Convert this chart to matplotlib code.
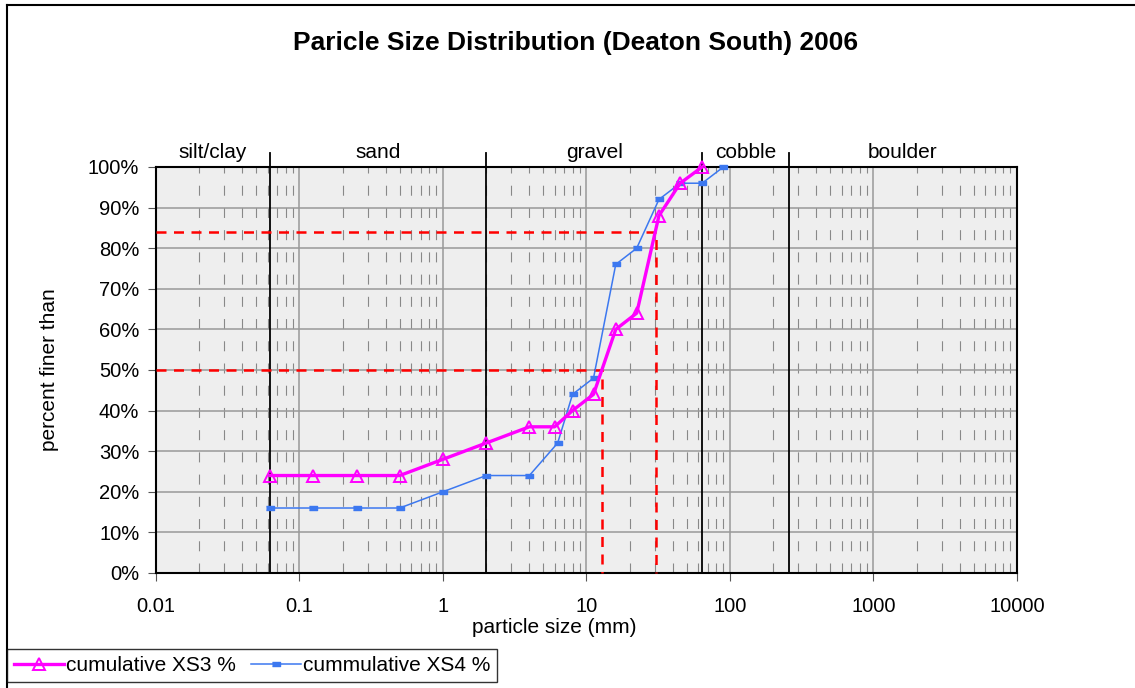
import matplotlib
matplotlib.use("Agg")
import matplotlib.pyplot as plt
from matplotlib.ticker import PercentFormatter, LogLocator, NullFormatter
from matplotlib.lines import Line2D

plt.rcParams['font.family'] = ['Liberation Sans', 'DejaVu Sans']

# sieve data (mm, % finer)
xs3_size = [0.0625, 0.125, 0.25, 0.5, 1, 2, 4, 6, 8, 11.2, 16, 22.4, 32, 45, 64]
xs3_pct = [24, 24, 24, 24, 28, 32, 36, 36, 40, 44, 60, 64, 88, 96, 100]

xs4_size = [0.0625, 0.125, 0.25, 0.5, 1, 2, 4, 6.3, 8, 11.2, 16, 22.4, 32, 45, 64, 90]
xs4_pct = [16, 16, 16, 16, 20, 24, 24, 32, 44, 48, 76, 80, 92, 96, 96, 100]

# size class boundaries and names
class_bounds = [0.0625, 2, 64, 256]
class_names = ["silt/clay", "sand", "gravel", "cobble", "boulder"]
class_edges = [0.01, 0.0625, 2, 64, 256, 10000]

# D50 and D84 markers
d_pct = [50, 84]
d_size = [12.8, 30.3]

fig = plt.figure(figsize=(11.35, 6.88), dpi=100)
ax = fig.add_axes([0.1374, 0.1672, 0.896 - 0.1374, 0.7573 - 0.1672])
ax.set_facecolor('#eeeeee')

ax.set_xscale('log')
ax.set_xlim(0.01, 10000)
ax.set_ylim(0, 100)

# grid
ax.xaxis.set_minor_locator(LogLocator(base=10, subs=range(2, 10), numticks=20))
ax.xaxis.set_minor_formatter(NullFormatter())
ax.set_xticks([0.01, 0.1, 1, 10, 100, 1000, 10000])
ax.set_xticklabels(["0.01", "0.1", "1", "10", "100", "1000", "10000"])
ax.set_yticks(range(0, 101, 10))
ax.yaxis.set_major_formatter(PercentFormatter(100, decimals=0))

ax.grid(True, which='major', axis='both', color='#999999', lw=1.1, zorder=0)
ax.grid(True, which='minor', axis='x', color='#888888', lw=0.8,
        linestyle=(0, (9, 11)), zorder=0)
ax.set_axisbelow(True)

ax.tick_params(axis='both', which='major', direction='out', length=6,
               color='#555555', labelsize=14.5)
ax.tick_params(axis='x', which='major', pad=11)
ax.tick_params(axis='y', which='major', pad=6)
ax.tick_params(axis='x', which='minor', length=0)

for sp in ax.spines.values():
    sp.set_color('black')
    sp.set_linewidth(1.5)

# class boundaries
for b in class_bounds:
    ax.plot([b, b], [0, 103.4], color='black', lw=1.3, clip_on=False, zorder=3)
for i, name in enumerate(class_names):
    xc = (class_edges[i] * class_edges[i + 1]) ** 0.5
    ax.text(xc, 103.6, name, ha='center', va='center', fontsize=15)

# D50 / D84 guide lines
for p, s in zip(d_pct, d_size):
    ax.plot([0.01, s, s], [p, p, 0], color='red', lw=1.8,
            linestyle=(0, (4, 3)), zorder=4, clip_on=False)

# data
ax.plot(xs3_size, xs3_pct, color='#ff00ff', lw=2.4, marker='^', markersize=8.5,
        markerfacecolor='none', markeredgecolor='#ff00ff', markeredgewidth=1.4,
        label='cumulative XS3 %', zorder=6, clip_on=False)
rect = [(-1, -0.5), (1, -0.5), (1, 0.5), (-1, 0.5)]
ax.plot(xs4_size, xs4_pct, color='#3c78f0', lw=1.1, marker=rect, markersize=6,
        label='cummulative XS4 %', zorder=5, clip_on=False)

ax.set_xlabel("particle size (mm)", fontsize=15, labelpad=2, x=0.463)
ax.set_ylabel("percent finer than", fontsize=15, labelpad=21)

fig.suptitle("Paricle Size Distribution (Deaton South) 2006", fontsize=19,
             fontweight='bold', x=0.507, y=0.955)

# chart border
fig.add_artist(Line2D([0.006, 1.0], [0.993, 0.993], color='black', lw=1.5,
                      transform=fig.transFigure))
fig.add_artist(Line2D([0.006, 0.006], [0.0, 0.993], color='black', lw=1.5,
                      transform=fig.transFigure))

leg = fig.legend(loc='lower left', bbox_to_anchor=(0.006, 0.008), ncol=2,
                 fontsize=15, frameon=True, fancybox=False, handlelength=2.4,
                 handletextpad=0.1, columnspacing=0.7, borderpad=0.35,
                 borderaxespad=0)
leg.get_frame().set_edgecolor('black')
leg.get_frame().set_linewidth(1.0)

plt.savefig("out.png", dpi=100)
